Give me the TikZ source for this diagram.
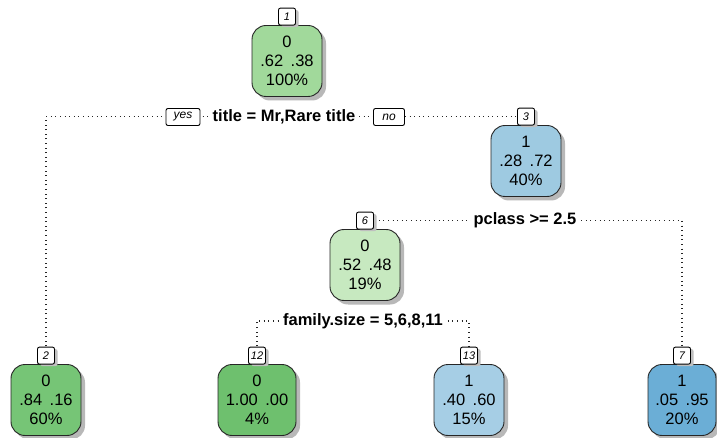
\documentclass[tikz,border=0pt]{standalone}
\usepackage{fontspec}
\setmainfont{Liberation Sans}
\usetikzlibrary{shadows}
\pgfdeclarelayer{bg}
\pgfsetlayers{bg,main}
\definecolor{gA}{RGB}{161,217,155}
\definecolor{gB}{RGB}{118,197,118}
\definecolor{gC}{RGB}{199,233,192}
\definecolor{gD}{RGB}{110,192,110}
\definecolor{bA}{RGB}{158,202,225}
\definecolor{bB}{RGB}{166,206,229}
\definecolor{bC}{RGB}{107,174,214}
\tikzset{
  leaf/.style={draw=black!85, line width=0.9pt, rounded corners=14pt,
    minimum width=70pt, minimum height=71pt, align=center, inner sep=2pt,
    font=\fontsize{16.5}{19}\selectfont,
    drop shadow={shadow xshift=4pt, shadow yshift=-4pt, fill=black!28, opacity=1}},
  lab/.style={draw=black, line width=0.9pt, fill=white, rounded corners=2pt,
    minimum width=17pt, minimum height=17pt, inner sep=1pt,
    font=\fontsize{11}{11}\selectfont\itshape,
    drop shadow={shadow xshift=3pt, shadow yshift=-2pt, fill=black!25, opacity=1}},
  yn/.style={draw=black, line width=0.9pt, fill=white, rounded corners=2pt,
    minimum height=17pt, inner sep=2pt, font=\fontsize{12}{12}\selectfont\itshape},
  splt/.style={fill=white, inner sep=2.5pt, font=\fontsize{16.5}{17}\selectfont\bfseries},
  dots/.style={line width=1.1pt, dash pattern=on 1pt off 3.6pt, black!85}
}
\newcommand{\pp}[2]{#1\hspace{.45em}#2}
\begin{document}
\begin{tikzpicture}[x=1pt,y=-1pt]
\useasboundingbox (0,0) rectangle (717,438);

% nodes
\node[leaf, fill=gA] (n1) at (287,61) {0\\\pp{.62}{.38}\\100\%};
\node[leaf, fill=bA] (n3) at (526,161) {1\\\pp{.28}{.72}\\40\%};
\node[leaf, fill=gC] (n6) at (365,265) {0\\\pp{.52}{.48}\\19\%};
\node[leaf, fill=gB] (n2) at (46,400) {0\\\pp{.84}{.16}\\60\%};
\node[leaf, fill=gD, minimum width=78pt] (n12) at (257,400) {0\\\pp{1.00}{.00}\\4\%};
\node[leaf, fill=bB] (n13) at (469,400) {1\\\pp{.40}{.60}\\15\%};
\node[leaf, fill=bC, minimum width=68pt] (n7) at (682,400) {1\\\pp{.05}{.95}\\20\%};

% node number labels
\node[lab, anchor=south] (l1) at ([yshift=-0.5pt]n1.north) {1};
\node[lab, anchor=south] (l2) at ([yshift=-0.5pt]n2.north) {2};
\node[lab, anchor=south] (l3) at ([yshift=-0.5pt]n3.north) {3};
\node[lab, anchor=south] (l6) at ([yshift=-0.5pt]n6.north) {6};
\node[lab, anchor=south] (l12) at ([yshift=-0.5pt]n12.north) {12};
\node[lab, anchor=south] (l13) at ([yshift=-0.5pt]n13.north) {13};
\node[lab, anchor=south] (l7) at ([yshift=-0.5pt]n7.north) {7};

% split labels
\node[yn, minimum width=34pt] (yes) at (183,117) {yes};
\node[splt] (s1) at (284,117) {title = Mr,Rare title};
\node[yn, minimum width=31pt] (no) at (389,117) {no};
\node[splt] (s3) at (525,220) {pclass >= 2.5};
\node[splt] (s6) at (363,321) {family.size = 5,6,8,11};

% connectors (behind labels)
\coordinate (fy) at (0,321);
\begin{pgfonlayer}{bg}
\fill[white] (0,0) rectangle (717,438);
\draw[dots] (l2.center) |- (l3.center);
\draw[dots] (l6.center) -| (l7.center);
\draw[dots] (l12.center) |- (fy -| l13.center) -- (l13.center);
\end{pgfonlayer}
\end{tikzpicture}
\end{document}
